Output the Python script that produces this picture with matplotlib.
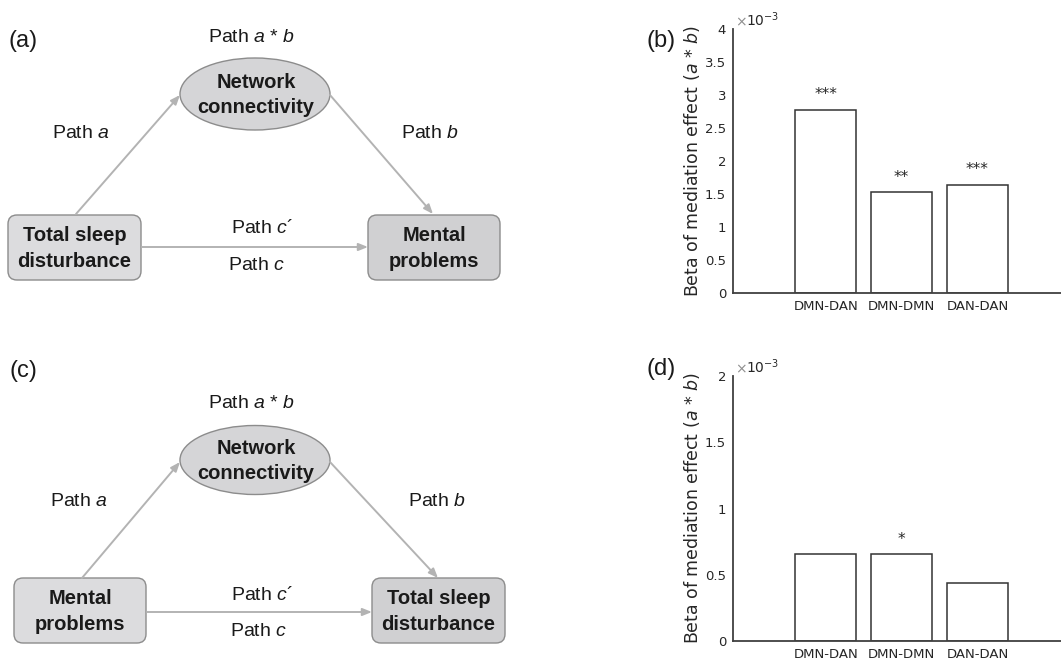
import numpy as np
import matplotlib
matplotlib.use("Agg")
import matplotlib.pyplot as plt
from matplotlib.patches import FancyBboxPatch, Ellipse
from matplotlib.ticker import FuncFormatter

# bar data (beta of mediation effect a*b)
pairs = ['DMN-DAN', 'DMN-DMN', 'DAN-DAN']
beta_sleep_to_mental = [2.78e-3, 1.525e-3, 1.64e-3]
sig_sleep_to_mental = ['***', '**', '***']
beta_mental_to_sleep = [0.657e-3, 0.654e-3, 0.44e-3]
sig_mental_to_sleep = ['', '*', '']

diag_font = 'Liberation Sans'
plt.rcParams['mathtext.fontset'] = 'custom'
plt.rcParams['mathtext.rm'] = 'DejaVu Sans'
plt.rcParams['mathtext.it'] = 'DejaVu Sans:italic'
plt.rcParams['mathtext.sf'] = diag_font + ':italic'

W, H = 1061, 658
fig = plt.figure(figsize=(W / 100, H / 100), dpi=100)

# ---- mediation diagrams (drawn in pixel coords of the whole figure) ----
dax = fig.add_axes([0, 0, 1, 1], zorder=0)
dax.set_xlim(0, W)
dax.set_ylim(H, 0)
dax.axis('off')

TXT = '#1a1a1a'
ARR = '#b3b3b3'
FS_PATH, FS_NODE, FS_LET = 14, 14.5, 17


def draw_mediation(ax, g, left_txt, right_txt, letter):
    ax.text(*g['letter'], letter, fontsize=FS_LET, family=diag_font, color=TXT,
            ha='center', va='center')
    ax.text(*g['ab'], r'Path $\mathsf{a}$ * $\mathsf{b}$', fontsize=FS_PATH,
            family=diag_font, color=TXT, ha='center', va='center')
    ex, ey, ew, eh = g['ell']
    ax.add_patch(Ellipse((ex, ey), ew, eh, facecolor='#d5d5d7',
                         edgecolor='#8c8c8c', lw=1))
    ax.text(ex + 1, ey + 1, 'Network\nconnectivity', fontsize=FS_NODE,
            fontweight='bold', family=diag_font, color=TXT,
            ha='center', va='center', linespacing=1.45)
    for (bx, by, bw, bh), txt, fc in [(g['lbox'], left_txt, '#dcdcde'),
                                      (g['rbox'], right_txt, '#d0d0d2')]:
        ax.add_patch(FancyBboxPatch((bx, by), bw, bh,
                                    boxstyle='round,pad=0,rounding_size=9',
                                    facecolor=fc, edgecolor='#8c8c8c', lw=1))
        ax.text(bx + bw / 2, by + bh / 2 + 1, txt, fontsize=FS_NODE,
                fontweight='bold', family=diag_font, color=TXT,
                ha='center', va='center', linespacing=1.45)
    for key in ['arr_a', 'arr_b', 'arr_c']:
        start, end = g[key]
        ax.annotate('', xy=end, xytext=start,
                    arrowprops=dict(arrowstyle='-|>,head_length=0.55,head_width=0.22',
                                    color=ARR, lw=1.4, shrinkA=0, shrinkB=0))
    for key, s in [('pa', r'Path $\mathsf{a}$'), ('pb', r'Path $\mathsf{b}$'),
                   ('pc1', 'Path $\\mathsf{c}$\u00b4'), ('pc', r'Path $\mathsf{c}$')]:
        ax.text(*g[key], s, fontsize=FS_PATH, family=diag_font, color=TXT,
                ha='center', va='center')


geom_a = dict(letter=(23, 41), ab=(252, 37), ell=(255, 94, 150, 72),
              lbox=(8, 215, 133, 65), rbox=(368, 215, 132, 65),
              arr_a=((76, 214), (180, 95)), arr_b=((330, 95), (433, 214)),
              arr_c=((142, 247), (368, 247)),
              pa=(81, 133), pb=(430, 133), pc1=(262, 228), pc=(257, 266))
geom_c = dict(letter=(23, 371), ab=(252, 404), ell=(255, 460, 150, 69),
              lbox=(14, 578, 132, 65), rbox=(372, 578, 133, 65),
              arr_a=((82, 578), (180, 462)), arr_b=((330, 462), (438, 578)),
              arr_c=((147, 612), (372, 612)),
              pa=(79, 502), pb=(437, 502), pc1=(262, 595), pc=(259, 632))

draw_mediation(dax, geom_a, 'Total sleep\ndisturbance', 'Mental\nproblems', '(a)')
draw_mediation(dax, geom_c, 'Mental\nproblems', 'Total sleep\ndisturbance', '(c)')
dax.text(661, 41, '(b)', fontsize=FS_LET, family=diag_font, color=TXT,
         ha='center', va='center')
dax.text(661, 369, '(d)', fontsize=FS_LET, family=diag_font, color=TXT,
         ha='center', va='center')

# ---- bar charts ----
SP = '#404040'
x = np.arange(1, len(pairs) + 1)


def bar_panel(rect, vals, sigs, ymax, yticks):
    ax = fig.add_axes(rect, zorder=1)
    ax.patch.set_alpha(0)
    ax.bar(x, vals, width=0.8, facecolor='white', edgecolor='#333333', lw=1.1)
    for xi, v, s in zip(x, vals, sigs):
        if s:
            ax.annotate(s, xy=(xi, v), xytext=(0, 15), textcoords='offset pixels',
                        ha='center', va='center', fontsize=11, color='#262626')
    ax.set_xlim(-0.22, 4.1)
    ax.set_ylim(0, ymax)
    ax.set_xticks(x)
    ax.set_xticklabels(pairs)
    ax.set_yticks(yticks)
    ax.yaxis.set_major_formatter(FuncFormatter(lambda v, _: f'{v * 1e3:g}'))
    ax.tick_params(length=0, labelsize=9.5, colors='#262626')
    ax.tick_params(axis='y', pad=5)
    ax.tick_params(axis='x', pad=5)
    for side in ['top', 'right']:
        ax.spines[side].set_visible(False)
    for side in ['left', 'bottom']:
        ax.spines[side].set_color(SP)
        ax.spines[side].set_linewidth(1.3)
    ax.set_ylabel('Beta of mediation effect ($a$ * $b$)', fontsize=12.5,
                  color='#262626', labelpad=2)
    ax.text(0.005, 1.0, r'$\times$', transform=ax.transAxes, fontsize=10,
            color='#909090', ha='left', va='bottom')
    ax.text(0.04, 1.0, r'10$^{-3}$', transform=ax.transAxes, fontsize=10,
            color='#262626', ha='left', va='bottom', family='DejaVu Sans')
    return ax


left = 733 / W
bar_panel([left, 1 - 293 / H, 1 - left, (293 - 29) / H],
          beta_sleep_to_mental, sig_sleep_to_mental, 4e-3,
          np.arange(0, 4.01e-3, 0.5e-3))
bar_panel([left, 1 - 641 / H, 1 - left, (641 - 376) / H],
          beta_mental_to_sleep, sig_mental_to_sleep, 2e-3,
          np.arange(0, 2.01e-3, 0.5e-3))

fig.savefig('out.png', dpi=100)
